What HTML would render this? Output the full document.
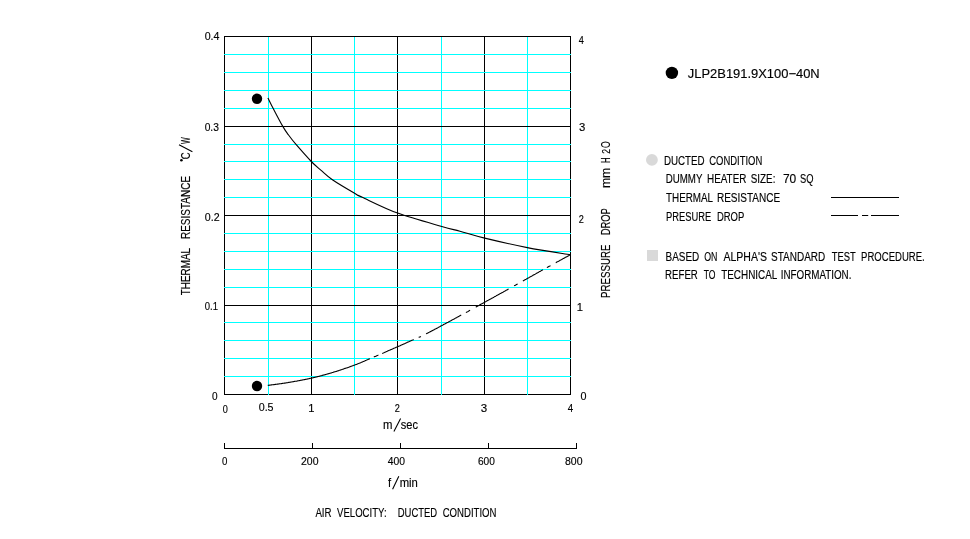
<!DOCTYPE html>
<html><head><meta charset="utf-8"><title>chart</title>
<style>
html,body{margin:0;padding:0;background:#fff;}
body{width:970px;height:539px;overflow:hidden;font-family:"Liberation Sans",sans-serif;}
svg{display:block;position:absolute;left:0;top:0;will-change:transform}
text{font-family:"Liberation Sans",sans-serif;fill:#000;stroke:#000;stroke-width:0.15;}
</style></head><body>
<svg width="970" height="539" viewBox="0 0 970 539">
<rect width="970" height="539" fill="#fff"/>
<g shape-rendering="crispEdges">
<rect x="224" y="36" width="1" height="359" fill="#000"/>
<rect x="311" y="36" width="1" height="359" fill="#000"/>
<rect x="397" y="36" width="1" height="359" fill="#000"/>
<rect x="484" y="36" width="1" height="359" fill="#000"/>
<rect x="570" y="36" width="1" height="359" fill="#000"/>
<rect x="224" y="36" width="347" height="1" fill="#000"/><rect x="224" y="394" width="347" height="1" fill="#000"/>
<rect x="268" y="37" width="1" height="358" fill="#00ffff"/>
<rect x="354" y="37" width="1" height="358" fill="#00ffff"/>
<rect x="441" y="37" width="1" height="358" fill="#00ffff"/>
<rect x="527" y="37" width="1" height="358" fill="#00ffff"/>
<rect x="224" y="54" width="347" height="1" fill="#00ffff"/>
<rect x="224" y="72" width="347" height="1" fill="#00ffff"/>
<rect x="224" y="90" width="347" height="1" fill="#00ffff"/>
<rect x="224" y="108" width="347" height="1" fill="#00ffff"/>
<rect x="224" y="126" width="347" height="1" fill="#000"/>
<rect x="224" y="144" width="347" height="1" fill="#00ffff"/>
<rect x="224" y="161" width="347" height="1" fill="#00ffff"/>
<rect x="224" y="179" width="347" height="1" fill="#00ffff"/>
<rect x="224" y="197" width="347" height="1" fill="#00ffff"/>
<rect x="224" y="215" width="347" height="1" fill="#000"/>
<rect x="224" y="233" width="347" height="1" fill="#00ffff"/>
<rect x="224" y="251" width="347" height="1" fill="#00ffff"/>
<rect x="224" y="269" width="347" height="1" fill="#00ffff"/>
<rect x="224" y="287" width="347" height="1" fill="#00ffff"/>
<rect x="224" y="305" width="347" height="1" fill="#000"/>
<rect x="224" y="322" width="347" height="1" fill="#00ffff"/>
<rect x="224" y="340" width="347" height="1" fill="#00ffff"/>
<rect x="224" y="358" width="347" height="1" fill="#00ffff"/>
<rect x="224" y="376" width="347" height="1" fill="#00ffff"/>
</g>
<g fill="#000" shape-rendering="crispEdges">
<rect x="224" y="448" width="353" height="1"/>
<rect x="224" y="443" width="1" height="6"/>
<rect x="312" y="443" width="1" height="6"/>
<rect x="400" y="443" width="1" height="6"/>
<rect x="488" y="443" width="1" height="6"/>
<rect x="576" y="443" width="1" height="6"/>
</g>
<g fill="none" stroke="#000" stroke-width="1.1" stroke-linecap="butt">
<path d="M267.9 97.9 C268.8 99.6 270.6 103.5 273.1 108.3 C275.6 113.0 280.3 122.1 282.8 126.4 C285.3 130.7 285.8 131.3 288.0 134.3 C290.2 137.3 291.9 139.7 295.8 144.2 C299.7 148.7 307.0 157.1 311.3 161.5 C315.6 165.9 317.9 167.6 321.4 170.7 C324.9 173.8 326.9 176.0 332.4 179.8 C337.9 183.6 349.6 190.4 354.6 193.3 C359.6 196.2 355.1 194.0 362.3 197.3 C369.5 200.6 384.4 208.2 397.6 213.1 C410.9 218.0 431.4 223.5 441.8 226.5 C452.2 229.5 452.9 229.3 460.0 231.2 C467.1 233.1 473.5 235.4 484.7 238.1 C495.9 240.8 513.0 244.8 527.3 247.6 C541.6 250.4 563.1 253.6 570.3 254.8"/>
<path d="M267.8 385.4 L268.1 385.4 L268.3 385.3 L268.6 385.3 L269.0 385.2 L269.3 385.2 L269.7 385.1 L270.1 385.1 L270.5 385.0 L270.9 385.0 L271.3 384.9 L271.7 384.9 L272.2 384.8 L272.7 384.8 L273.2 384.7 L273.7 384.6 L274.2 384.6 L274.7 384.5 L275.2 384.4 L275.7 384.4 L276.3 384.3 L276.8 384.2 L277.4 384.1 L278.0 384.1 L278.5 384.0 L279.1 383.9 L279.7 383.8 L280.3 383.7 L280.9 383.7 L281.4 383.6 L282.0 383.5 L282.6 383.4 L283.2 383.3 L283.8 383.2 L284.4 383.1 L285.0 383.1 L285.5 383.0 L286.1 382.9 L286.7 382.8 L287.2 382.7 L287.8 382.6 L288.3 382.5 L288.7 382.4 L289.2 382.4 L289.7 382.3 L290.2 382.2 L290.6 382.1 L291.1 382.0 L291.6 382.0 L292.1 381.9 L292.6 381.8 L293.1 381.7 L293.6 381.6 L294.1 381.5 L294.6 381.4 L295.1 381.3 L295.6 381.3 L296.1 381.2 L296.7 381.1 L297.2 381.0 L297.7 380.9 L298.2 380.8 L298.7 380.7 L299.2 380.6 L299.8 380.5 L300.3 380.4 L300.8 380.3 L301.3 380.2 L301.8 380.1 L302.4 380.0 L302.9 379.9 L303.4 379.8 L303.9 379.7 L304.4 379.6 L305.0 379.5 L305.5 379.4 L306.0 379.3 L306.5 379.2 L307.0 379.1 L307.5 379.0 L308.0 378.9 L308.5 378.8 L309.0 378.7 L309.5 378.5 L310.0 378.4 L310.5 378.3 L311.0 378.2 L311.5 378.1 L312.0 378.0 L312.5 377.9 L313.1 377.8 L313.6 377.6 L314.1 377.5 L314.6 377.4 L315.1 377.3 L315.7 377.1 L316.2 377.0 L316.7 376.9 L317.2 376.8 L317.7 376.6 L318.2 376.5 L318.8 376.4 L319.3 376.2 L319.8 376.1 L320.3 376.0 L320.8 375.8 L321.3 375.7 L321.8 375.6 L322.3 375.4 L322.8 375.3 L323.3 375.1 L323.8 375.0 L324.3 374.9 L324.8 374.7 L325.3 374.6 L325.8 374.5 L326.3 374.3 L326.8 374.2 L327.3 374.0 L327.8 373.9 L328.3 373.7 L328.8 373.6 L329.3 373.5 L329.8 373.3 L330.3 373.2 L330.8 373.0 L331.3 372.9 L331.8 372.7 L332.3 372.6 L332.7 372.4 L333.2 372.3 L333.7 372.1 L334.2 372.0 L334.7 371.8 L335.2 371.7 L335.8 371.5 L336.3 371.4 L336.8 371.2 L337.3 371.0 L337.9 370.9 L338.4 370.7 L338.9 370.5 L339.4 370.3 L340.0 370.2 L340.5 370.0 L341.0 369.8 L341.5 369.7 L342.0 369.5 L342.6 369.3 L343.1 369.1 L343.6 369.0 L344.1 368.8 L344.6 368.6 L345.1 368.4 L345.7 368.3 L346.2 368.1 L346.7 367.9 L347.2 367.7 L347.7 367.6 L348.2 367.4 L348.7 367.2 L349.1 367.0 L349.6 366.9 L350.1 366.7 L350.6 366.5 L351.1 366.3 L351.5 366.2 L352.0 366.0 L352.5 365.8 L352.9 365.7 L353.4 365.5 L353.8 365.3 L354.3 365.2 L354.7 365.0 L355.3 364.8 L355.8 364.6 L356.4 364.4 L356.9 364.2 L357.4 364.0 L357.9 363.8 L358.4 363.6 L358.8 363.4 L359.3 363.2 L359.7 363.1 L360.1 362.9 L360.6 362.7 L361.0 362.5 L361.4 362.3 L361.9 362.2 L362.3 362.0 L362.7 361.8 L363.2 361.6 L363.6 361.4 L364.1 361.2 L364.6 361.0 L365.1 360.8 L365.6 360.5 L366.2 360.3 L366.7 360.1 L367.3 359.8 L367.9 359.6 L368.5 359.3 L369.2 359.0 L369.9 358.7"/>
<path d="M373.8 357.0 L374.3 356.8 L374.8 356.6 L375.3 356.4 L375.8 356.2 L376.3 356.0 L376.8 355.7 L377.3 355.5 L377.9 355.3 L378.4 355.1"/>
<path d="M382.2 353.4 L382.8 353.2 L383.3 352.9 L383.9 352.7 L384.4 352.5 L385.0 352.2 L385.5 352.0 L386.1 351.7 L386.6 351.5 L387.2 351.3 L387.7 351.0 L388.2 350.8 L388.8 350.6 L389.3 350.3 L389.9 350.1 L390.4 349.9 L390.9 349.6 L391.4 349.4 L391.9 349.2 L392.4 349.0 L392.9 348.8 L393.4 348.5 L393.9 348.3 L394.4 348.1 L394.8 347.9 L395.3 347.7 L395.7 347.5 L396.2 347.3 L396.6 347.2 L397.0 347.0 L397.4 346.8 L398.1 346.5 L398.7 346.2 L399.4 345.9 L400.0 345.7 L400.6 345.4 L401.2 345.1 L401.8 344.9 L402.4 344.6 L402.9 344.4 L403.5 344.1 L404.0 343.9 L404.5 343.7 L405.0 343.4 L405.5 343.2 L406.0 343.0 L406.5 342.8 L407.0 342.5 L407.4 342.3 L407.9 342.1 L408.4 341.9 L408.8 341.7 L409.3 341.5 L409.7 341.3 L410.2 341.1 L410.6 340.9 L411.0 340.7 L411.5 340.5 L411.9 340.3 L412.4 340.1 L412.8 339.9 L413.3 339.7 L413.7 339.5"/>
<path d="M418.7 337.4 L419.1 337.3 L419.5 337.1 L420.0 336.9 L420.4 336.7 L420.9 336.4"/>
<path d="M426.1 333.9 L426.4 333.7 L426.8 333.5 L427.2 333.3 L427.5 333.2 L427.9 332.9 L428.3 332.7 L428.7 332.5 L429.2 332.3 L429.6 332.1 L430.0 331.9 L430.5 331.6 L430.9 331.4 L431.4 331.1 L431.9 330.9 L432.3 330.6 L432.8 330.4 L433.3 330.1 L433.8 329.9 L434.3 329.6 L434.8 329.3 L435.3 329.0 L435.9 328.8 L436.4 328.5 L436.9 328.2 L437.5 327.9 L438.0 327.6 L438.5 327.3 L439.1 327.0 L439.6 326.7 L440.2 326.4 L440.7 326.1 L441.3 325.8 L441.9 325.5 L442.4 325.2 L443.0 324.9 L443.5 324.6 L444.1 324.3 L444.7 324.0 L445.2 323.7 L445.8 323.4 L446.4 323.1 L446.9 322.8 L447.5 322.5 L448.1 322.2 L448.6 321.9 L449.2 321.6 L449.7 321.3 L450.3 321.0 L450.8 320.7 L451.4 320.4 L451.9 320.1 L452.5 319.8 L453.0 319.5 L453.5 319.2 L454.1 319.0 L454.6 318.7 L455.1 318.4 L455.6 318.1 L456.1 317.9 L456.6 317.6 L457.1 317.3 L457.6 317.1 L458.1 316.8 L458.5 316.5 L459.0 316.3 L459.5 316.0 L459.9 315.8 L460.3 315.6 L460.8 315.3 L461.2 315.1"/>
<path d="M465.9 312.5 L466.5 312.2 L467.0 311.9 L467.5 311.7 L468.1 311.4 L468.6 311.1 L469.1 310.8 L469.6 310.5 L470.1 310.3"/>
<path d="M475.7 307.1 L476.2 306.9 L476.6 306.6 L477.1 306.4 L477.6 306.1 L478.0 305.9 L478.5 305.6 L479.0 305.4 L479.4 305.1 L479.9 304.8 L480.4 304.6 L480.8 304.3 L481.3 304.0 L481.8 303.8 L482.3 303.5 L482.8 303.2 L483.3 303.0 L483.8 302.7 L484.3 302.4 L484.8 302.1 L485.3 301.9 L485.8 301.6 L486.3 301.3 L486.7 301.1 L487.2 300.8 L487.7 300.5 L488.2 300.3 L488.6 300.0 L489.1 299.8 L489.6 299.5 L490.1 299.2 L490.5 299.0 L491.0 298.7 L491.5 298.5 L491.9 298.2 L492.4 297.9 L492.9 297.7 L493.4 297.4 L493.8 297.2 L494.3 296.9 L494.8 296.6 L495.3 296.4 L495.8 296.1 L496.2 295.8 L496.7 295.6 L497.2 295.3 L497.7 295.0 L498.2 294.8 L498.7 294.5 L499.2 294.2 L499.7 293.9 L500.2 293.6 L500.7 293.4 L501.3 293.1 L501.8 292.8 L502.3 292.5 L502.9 292.2 L503.4 291.9 L504.0 291.6 L504.5 291.3 L505.1 291.0 L505.6 290.6 L506.2 290.3 L506.8 290.0 L507.4 289.7 L508.0 289.3 L508.6 289.0"/>
<path d="M514.1 285.9 L514.6 285.6 L515.1 285.4 L515.6 285.1 L516.1 284.8 L516.6 284.5 L517.1 284.2 L517.6 283.9"/>
<path d="M522.9 281.0 L523.4 280.7 L523.9 280.4 L524.5 280.1 L525.0 279.8 L525.5 279.5 L526.1 279.2 L526.6 278.9 L527.2 278.6 L527.7 278.3 L528.2 278.0 L528.8 277.7 L529.3 277.4 L529.8 277.1 L530.4 276.8 L530.9 276.5 L531.4 276.2 L532.0 275.9 L532.5 275.6 L533.0 275.3 L533.5 275.0 L534.0 274.7 L534.6 274.4 L535.1 274.2 L535.6 273.9 L536.1 273.6 L536.6 273.3 L537.1 273.0 L537.6 272.7 L538.1 272.5 L538.6 272.2 L539.1 271.9 L539.6 271.6 L540.1 271.4 L540.6 271.1 L541.0 270.8 L541.5 270.6 L542.0 270.3 L542.4 270.1 L542.9 269.8"/>
<path d="M546.9 267.6 L547.5 267.2 L548.1 266.9 L548.7 266.6 L549.3 266.3 L549.9 266.0 L550.5 265.6"/>
<path d="M555.7 262.7 L556.3 262.4 L556.8 262.1 L557.4 261.8 L558.0 261.5 L558.5 261.2 L559.1 260.9 L559.6 260.6 L560.1 260.3 L560.7 260.0 L561.2 259.7 L561.7 259.5 L562.2 259.2 L562.7 258.9 L563.2 258.6 L563.7 258.4 L564.2 258.1 L564.6 257.9 L565.1 257.6 L565.5 257.4 L565.9 257.1 L566.4 256.9 L566.8 256.7 L567.2 256.5 L567.6 256.3 L567.9 256.1 L568.3 255.9 L568.6 255.7 L569.0 255.5 L569.3 255.3 L569.6 255.1 L569.9 255.0 L570.1 254.8 L570.4 254.7"/>
<path d="M393.9 431.4 L400.6 418.4 M392.6 489.3 L398.8 476.3 M192.4 151.7 L179 144.7"/>
<path d="M831 197.5 H899"/>
<path d="M831 215.5 H858 M862 215.5 H868.2 M871 215.5 H899"/>
</g>
<circle cx="257" cy="98.8" r="5.2"/><circle cx="257" cy="386" r="5.2"/>
<circle cx="671.9" cy="72.9" r="6.2"/>
<circle cx="651.9" cy="159.9" r="5.9" fill="#d9d9d9"/>
<rect x="647" y="250" width="11" height="11" fill="#d9d9d9"/>
<circle cx="181.4" cy="160.3" r="1.3"/>
<text x="204.70" y="40" font-size="11.2" textLength="14.80" lengthAdjust="spacingAndGlyphs">0.4</text>
<text x="204.64" y="131" font-size="11.2" textLength="14.25" lengthAdjust="spacingAndGlyphs">0.3</text>
<text x="204.80" y="221" font-size="11.2" textLength="14.80" lengthAdjust="spacingAndGlyphs">0.2</text>
<text x="204.80" y="310" font-size="11.2" textLength="13.20" lengthAdjust="spacingAndGlyphs">0.1</text>
<text x="212.00" y="400" font-size="11.2" textLength="5.60" lengthAdjust="spacingAndGlyphs">0</text>
<text x="578.80" y="44" font-size="11.2" textLength="5.09" lengthAdjust="spacingAndGlyphs">4</text>
<text x="579.10" y="131" font-size="11.2" textLength="6.30" lengthAdjust="spacingAndGlyphs">3</text>
<text x="578.80" y="223" font-size="11.2" textLength="5.09" lengthAdjust="spacingAndGlyphs">2</text>
<text x="576.75" y="311" font-size="11.2">1</text>
<text x="580.50" y="400" font-size="11.2" textLength="6.00" lengthAdjust="spacingAndGlyphs">0</text>
<text x="222.80" y="412.8" font-size="11.2" textLength="5.09" lengthAdjust="spacingAndGlyphs">0</text>
<text x="258.70" y="411.3" font-size="11.2" textLength="14.90" lengthAdjust="spacingAndGlyphs">0.5</text>
<text x="308.20" y="412" font-size="11.2">1</text>
<text x="394.80" y="412" font-size="11.2" textLength="5.09" lengthAdjust="spacingAndGlyphs">2</text>
<text x="480.82" y="412" font-size="11.2" textLength="6.43" lengthAdjust="spacingAndGlyphs">3</text>
<text x="567.82" y="412" font-size="11.2" textLength="5.43" lengthAdjust="spacingAndGlyphs">4</text>
<text x="382.89" y="428.8" font-size="12.5" textLength="9.45" lengthAdjust="spacingAndGlyphs">m</text>
<text x="400.80" y="428.8" font-size="12.5" textLength="17.20" lengthAdjust="spacingAndGlyphs">sec</text>
<text x="222.00" y="465" font-size="11.2" textLength="5.40" lengthAdjust="spacingAndGlyphs">0</text>
<text x="301.00" y="465" font-size="11.2" textLength="17.50" lengthAdjust="spacingAndGlyphs">200</text>
<text x="387.82" y="465.4" font-size="11.2" textLength="17.25" lengthAdjust="spacingAndGlyphs">400</text>
<text x="477.99" y="465" font-size="11.2" textLength="16.90" lengthAdjust="spacingAndGlyphs">600</text>
<text x="565.00" y="465" font-size="11.2" textLength="17.50" lengthAdjust="spacingAndGlyphs">800</text>
<text x="387.98" y="486.6" font-size="12.5" textLength="3.11" lengthAdjust="spacingAndGlyphs">f</text>
<text x="399.70" y="486.6" font-size="12.5" textLength="18.20" lengthAdjust="spacingAndGlyphs">min</text>
<text x="315.40" y="516.8" font-size="12.5" textLength="16.20" lengthAdjust="spacingAndGlyphs">AIR</text>
<text x="337.00" y="516.8" font-size="12.5" textLength="49.60" lengthAdjust="spacingAndGlyphs">VELOCITY:</text>
<text x="397.70" y="516.8" font-size="12.5" textLength="39.50" lengthAdjust="spacingAndGlyphs">DUCTED</text>
<text x="442.70" y="516.8" font-size="12.5" textLength="53.80" lengthAdjust="spacingAndGlyphs">CONDITION</text>
<text transform="translate(189.8 295.18) rotate(-90)" font-size="12.5" textLength="47.24" lengthAdjust="spacingAndGlyphs">THERMAL</text>
<text transform="translate(189.8 239.10) rotate(-90)" font-size="12.5" textLength="63.30" lengthAdjust="spacingAndGlyphs">RESISTANCE</text>
<text transform="translate(189.8 159.33) rotate(-90)" font-size="12.5" textLength="6.89" lengthAdjust="spacingAndGlyphs">C</text>
<text transform="translate(189.8 144.00) rotate(-90)" font-size="12.5" textLength="6.78" lengthAdjust="spacingAndGlyphs">W</text>
<text transform="translate(610.4 297.90) rotate(-90)" font-size="12.5" textLength="53.40" lengthAdjust="spacingAndGlyphs">PRESSURE</text>
<text transform="translate(610.4 235.28) rotate(-90)" font-size="12.5" textLength="27.16" lengthAdjust="spacingAndGlyphs">DROP</text>
<text transform="translate(610.4 188.00) rotate(-90)" font-size="12.5" textLength="20.20" lengthAdjust="spacingAndGlyphs">mm</text>
<text transform="translate(610.4 162.90) rotate(-90)" font-size="12.5" textLength="5.50" lengthAdjust="spacingAndGlyphs">H</text>
<text transform="translate(610.4 153.67) rotate(-90)" font-size="10" textLength="4.77" lengthAdjust="spacingAndGlyphs">2</text>
<text transform="translate(610.4 148.08) rotate(-90)" font-size="12.5" textLength="6.78" lengthAdjust="spacingAndGlyphs">O</text>
<text x="687.80" y="77.9" font-size="12.5" textLength="131.90" lengthAdjust="spacingAndGlyphs">JLP2B191.9X100−40N</text>
<text x="663.90" y="164.8" font-size="12.5" textLength="40.70" lengthAdjust="spacingAndGlyphs">DUCTED</text>
<text x="709.23" y="164.8" font-size="12.5" textLength="53.00" lengthAdjust="spacingAndGlyphs">CONDITION</text>
<text x="665.70" y="182.9" font-size="12.5" textLength="36.70" lengthAdjust="spacingAndGlyphs">DUMMY</text>
<text x="707.00" y="182.9" font-size="12.5" textLength="39.40" lengthAdjust="spacingAndGlyphs">HEATER</text>
<text x="750.80" y="182.9" font-size="12.5" textLength="24.60" lengthAdjust="spacingAndGlyphs">SIZE:</text>
<text x="782.90" y="182.9" font-size="12.5" textLength="13.30" lengthAdjust="spacingAndGlyphs">70</text>
<text x="799.92" y="182.9" font-size="12.5" textLength="13.50" lengthAdjust="spacingAndGlyphs">SQ</text>
<text x="666.00" y="202" font-size="12.5" textLength="47.10" lengthAdjust="spacingAndGlyphs">THERMAL</text>
<text x="716.90" y="202" font-size="12.5" textLength="63.30" lengthAdjust="spacingAndGlyphs">RESISTANCE</text>
<text x="666.00" y="220.9" font-size="12.5" textLength="45.24" lengthAdjust="spacingAndGlyphs">PRESURE</text>
<text x="716.90" y="220.9" font-size="12.5" textLength="27.30" lengthAdjust="spacingAndGlyphs">DROP</text>
<text x="665.50" y="260.7" font-size="12.5" textLength="33.80" lengthAdjust="spacingAndGlyphs">BASED</text>
<text x="704.20" y="260.7" font-size="12.5" textLength="13.20" lengthAdjust="spacingAndGlyphs">ON</text>
<text x="723.50" y="260.7" font-size="12.5" textLength="43.50" lengthAdjust="spacingAndGlyphs">ALPHA&#39;S</text>
<text x="771.10" y="260.7" font-size="12.5" textLength="54.14" lengthAdjust="spacingAndGlyphs">STANDARD</text>
<text x="831.72" y="260.7" font-size="12.5" textLength="24.07" lengthAdjust="spacingAndGlyphs">TEST</text>
<text x="861.10" y="260.7" font-size="12.5" textLength="63.60" lengthAdjust="spacingAndGlyphs">PROCEDURE.</text>
<text x="665.09" y="278.8" font-size="12.5" textLength="32.78" lengthAdjust="spacingAndGlyphs">REFER</text>
<text x="703.70" y="278.8" font-size="12.5" textLength="11.80" lengthAdjust="spacingAndGlyphs">TO</text>
<text x="721.20" y="278.8" font-size="12.5" textLength="56.10" lengthAdjust="spacingAndGlyphs">TECHNICAL</text>
<text x="780.80" y="278.8" font-size="12.5" textLength="70.60" lengthAdjust="spacingAndGlyphs">INFORMATION.</text>
</svg></body></html>
